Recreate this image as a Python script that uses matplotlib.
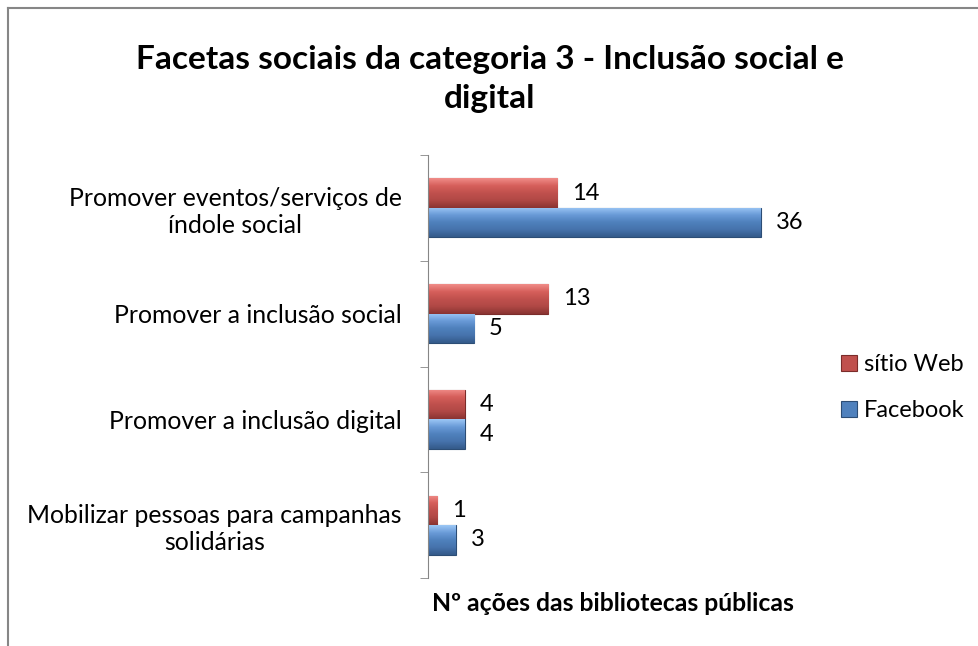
import numpy as np
import matplotlib.pyplot as plt
from matplotlib.lines import Line2D
from matplotlib.colors import LinearSegmentedColormap

categories = ['Promover eventos/serviços de\níndole social',
              'Promover a inclusão social',
              'Promover a inclusão digital',
              'Mobilizar pessoas para campanhas\nsolidárias']
sitio_web = [14, 13, 4, 1]
facebook = [36, 5, 4, 3]

plt.rcParams['font.family'] = ['Lato', 'DejaVu Sans']

fig = plt.figure(figsize=(9.79, 6.46), dpi=100)
ax = fig.add_axes([428 / 979, 1 - 578 / 646, 370 / 979, 423 / 646])

y = np.arange(len(categories))
h = 0.28
red = '#C0504D'
blue = '#4F81BD'

b1 = ax.barh(y - h / 2, sitio_web, height=h, color=red, edgecolor='#7B2C2A', linewidth=0.8, label='sítio Web', zorder=2)
b2 = ax.barh(y + h / 2, facebook, height=h, color=blue, edgecolor='#2C4D75', linewidth=0.8, label='Facebook', zorder=2)

# vertical gradient inside each bar to mimic the bevel look
cm_red = LinearSegmentedColormap.from_list('r', ['#F08C88', '#D65F5B', '#C0504D', '#B04845', '#8A3432'])
cm_blue = LinearSegmentedColormap.from_list('b', ['#9CC7F5', '#6A9BD8', '#4F81BD', '#4673AC', '#345A8A'])
grad = np.linspace(0, 1, 64).reshape(-1, 1)
for bars, cm in ((b1, cm_red), (b2, cm_blue)):
    for r in bars:
        y0 = r.get_y()
        im = ax.imshow(grad, extent=(0, r.get_width(), y0 + r.get_height(), y0), origin='upper',
                       aspect='auto', cmap=cm, zorder=2.5, interpolation='bilinear')
        im.set_clip_path(r)

for vals, off in ((sitio_web, -h / 2), (facebook, h / 2)):
    for i, v in enumerate(vals):
        ax.text(v + 1.6, i + off, str(v), va='center', ha='left', fontsize=17)

ax.set_xlim(0, 40)
ax.set_ylim(len(categories) - 0.5, -0.5)
ax.set_yticks(y)
ax.set_yticklabels(categories, fontsize=17.8, multialignment='center', linespacing=1.2)
ax.tick_params(axis='y', which='major', length=0, pad=19)
ax.set_yticks(np.arange(-0.5, len(categories), 1), minor=True)
ax.tick_params(axis='y', which='minor', length=6, color='#868686', direction='out')
ax.set_xticks([])
for s in ('top', 'right', 'bottom'):
    ax.spines[s].set_visible(False)
ax.spines['left'].set_color('#868686')
ax.set_xlabel('Nº ações das bibliotecas públicas', fontsize=17.8, fontweight='bold', labelpad=10)

fig.text(0.5005, 1 - 79 / 646, 'Facetas sociais da categoria 3 - Inclusão social e\ndigital',
         ha='center', va='center', fontsize=24, fontweight='bold', linespacing=1.45)

leg = fig.legend(handles=[b1, b2], loc='center left', bbox_to_anchor=(841 / 979, 1 - 387.5 / 646),
                 frameon=False, fontsize=17, handlelength=0.68, handleheight=0.68,
                 handletextpad=0.3, labelspacing=1.05, borderpad=0, borderaxespad=0)

fig.add_artist(Line2D([8 / 979, 1], [1 - 8 / 646, 1 - 8 / 646], color='#868686', lw=1.5))
fig.add_artist(Line2D([8 / 979, 8 / 979], [0, 1 - 8 / 646], color='#868686', lw=1.5))

fig.savefig('out.png', dpi=100)
